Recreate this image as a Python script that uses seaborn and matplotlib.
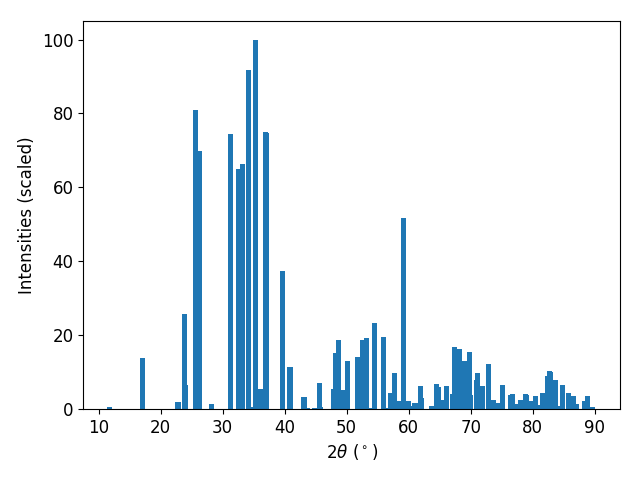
import numpy as np
import matplotlib
matplotlib.use("Agg")
import matplotlib.pyplot as plt
import seaborn as sns

# peak positions (2theta, degrees) and scaled intensities
two_theta = [11.81, 17.13, 22.77, 22.95, 23.90, 24.06, 25.68, 26.32, 28.26,
             31.32, 32.61, 33.26, 34.23, 34.71, 35.35, 36.16, 36.97, 37.13,
             39.71, 40.84, 41.00, 43.10, 43.26, 43.74, 44.87, 45.68, 45.84,
             47.94, 48.26, 48.74, 49.55, 50.19, 51.81, 52.61, 53.26, 53.74,
             54.55, 56.00, 56.30, 57.13, 57.77, 58.58, 58.75, 59.23, 60.03,
             60.68, 61.00, 61.16, 61.97, 62.13, 63.74, 64.55, 64.87, 65.30,
             66.16, 67.00, 67.45, 68.26, 69.06, 69.87, 70.03, 71.00, 71.16,
             71.97, 72.94, 73.74, 74.55, 75.19, 76.48, 76.81, 77.20, 77.35,
             77.95, 78.10, 78.90, 79.06, 79.70, 80.52, 81.00, 81.65, 82.45,
             82.77, 82.90, 83.74, 84.10, 84.87, 85.84, 86.65, 87.00, 88.42,
             88.90, 89.60]
intensity = [0.5, 13.8, 1.9, 1.9, 25.7, 6.5, 81.0, 69.9, 1.4,
             74.5, 65.0, 66.4, 91.9, 0.5, 100.0, 5.4, 75.1, 74.8,
             37.4, 11.4, 11.3, 3.2, 3.2, 0.3, 0.3, 7.0, 0.5,
             5.4, 15.2, 18.7, 5.1, 13.0, 14.1, 18.7, 19.2, 0.3,
             23.3, 19.5, 0.3, 4.3, 9.8, 2.2, 0.5, 51.8, 2.2,
             0.8, 1.6, 1.6, 6.2, 3.0, 0.8, 6.8, 6.0, 2.4,
             6.2, 4.1, 16.8, 16.3, 13.0, 15.4, 3.8, 7.9, 9.8,
             6.2, 12.2, 2.4, 1.6, 6.5, 3.8, 4.1, 0.8, 1.4,
             2.4, 2.4, 4.1, 3.8, 2.2, 3.5, 1.0, 4.3, 8.9,
             10.3, 10.0, 7.9, 0.8, 6.5, 4.3, 3.5, 1.4, 2.2,
             3.5, 0.5]

color = sns.color_palette("tab10")[0]

fig, ax = plt.subplots(figsize=(6.4, 4.8), dpi=100)
ax.bar(two_theta, intensity, width=0.8, color=color)

ax.set_xlim(7.5, 94.1)
ax.set_ylim(0, 105)
ax.set_xlabel(r"2$\theta$ ($^\circ$)", fontsize=12)
ax.set_ylabel("Intensities (scaled)", fontsize=12)
ax.tick_params(labelsize=12)

fig.subplots_adjust(left=0.13, right=0.969, bottom=0.148, top=0.956)
fig.savefig("out.png", dpi=100)
